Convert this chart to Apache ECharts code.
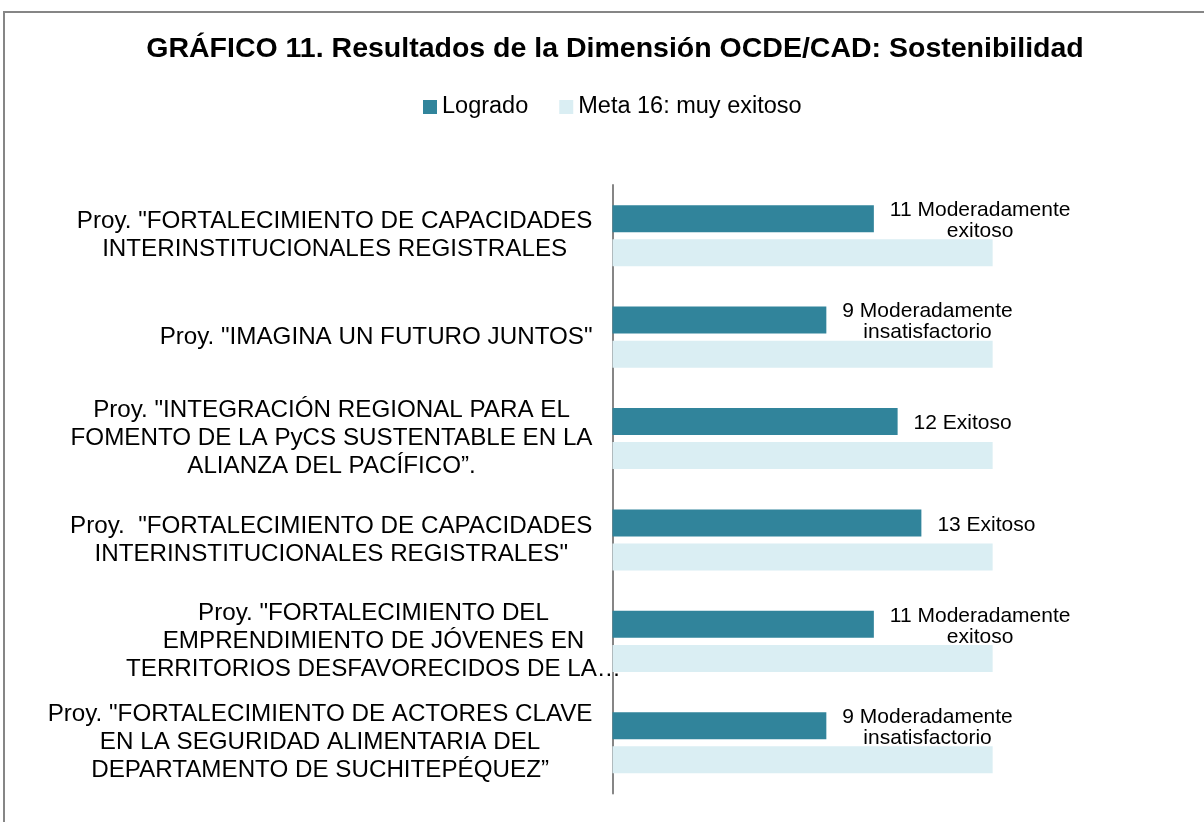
<!DOCTYPE html>
<html><head><meta charset="utf-8">
<script src="https://cdn.jsdelivr.net/npm/echarts@6/dist/echarts.min.js"></script>
<style>html,body{margin:0;padding:0;background:#fff}#c{width:1204px;height:822px}</style>
</head><body><div id="c"></div>
<script>
const titleText = 'GRÁFICO 11. Resultados de la Dimensión OCDE/CAD: Sostenibilidad';
const seriesNames = ['Logrado', 'Meta 16: muy exitoso'];
const categories = [
  'Proy. "FORTALECIMIENTO DE CAPACIDADES\nINTERINSTITUCIONALES REGISTRALES',
  'Proy. "IMAGINA UN FUTURO JUNTOS"',
  'Proy. "INTEGRACIÓN REGIONAL PARA EL\nFOMENTO DE LA PyCS SUSTENTABLE EN LA\nALIANZA DEL PACÍFICO”.',
  'Proy.  "FORTALECIMIENTO DE CAPACIDADES\nINTERINSTITUCIONALES REGISTRALES"',
  'Proy. "FORTALECIMIENTO DEL\nEMPRENDIMIENTO DE JÓVENES EN\nTERRITORIOS DESFAVORECIDOS DE LA…',
  'Proy. "FORTALECIMIENTO DE ACTORES CLAVE\nEN LA SEGURIDAD ALIMENTARIA DEL\nDEPARTAMENTO DE SUCHITEPÉQUEZ”'
];
const logrado = [11, 9, 12, 13, 11, 9];
const meta = [16, 16, 16, 16, 16, 16];
const ratings = [
  'Moderadamente\nexitoso',
  'Moderadamente\ninsatisfactorio',
  'Exitoso',
  'Exitoso',
  'Moderadamente\nexitoso',
  'Moderadamente\ninsatisfactorio'
];

const FONT = '"Liberation Sans", Arial, sans-serif';
const chart = echarts.init(document.getElementById('c'), null, { renderer: 'canvas' });
chart.setOption({
  backgroundColor: '#ffffff',
  animation: false,
  graphic: [{
    type: 'rect', z: -10, silent: true,
    shape: { x: 4, y: 12, width: 1300, height: 900 },
    style: { fill: 'none', stroke: '#868686', lineWidth: 2 }
  }],
  title: {
    text: titleText, left: 615, top: 34, textAlign: 'center', padding: 0,
    textStyle: { fontFamily: FONT, fontSize: 28.5, fontWeight: 'bold', color: '#000', lineHeight: 30 }
  },
  legend: {
    data: seriesNames, left: 423, top: 95, padding: 0, itemWidth: 14, itemHeight: 14, itemGap: 31,
    icon: 'rect',
    textStyle: { fontFamily: FONT, fontSize: 23.5, color: '#000', lineHeight: 20 }
  },
  grid: { left: 612.5, right: 116.3, top: 185, bottom: 28.5, containLabel: false, outerBoundsMode: 'none' },
  xAxis: { type: 'value', min: 0, max: 20, show: false },
  yAxis: {
    type: 'category', data: categories, inverse: true,
    axisLine: { show: true, lineStyle: { color: '#868686', width: 2 } },
    axisTick: { show: false },
    splitLine: { show: false },
    axisLabel: {
      interval: 0, margin: 20, color: '#000',
      formatter: function (v) {
        return v.split('\n').map(function (l) {
          return (l.endsWith('…') ? '{o|' : '{c|') + l + '}';
        }).join('\n');
      },
      rich: {
        c: { align: 'center', fontFamily: FONT, fontSize: 24.2, lineHeight: 28, color: '#000' },
        o: { align: 'center', width: 438, fontFamily: FONT, fontSize: 24.2, lineHeight: 28, color: '#000' }
      }
    }
  },
  series: [
    {
      name: seriesNames[0], type: 'bar', data: logrado, barWidth: 27, barGap: '26%',
      itemStyle: { color: '#31849B' },
      label: {
        show: true, position: 'right', distance: 16, offset: [0, 2],
        formatter: function (p) {
          return (p.value + ' ' + ratings[p.dataIndex]).split('\n').map(function (l) {
            return '{c|' + l + '}';
          }).join('\n');
        },
        rich: { c: { align: 'center', fontFamily: FONT, fontSize: 21, lineHeight: 21, color: '#000' } }
      }
    },
    {
      name: seriesNames[1], type: 'bar', data: meta, barWidth: 27, barGap: '26%',
      itemStyle: { color: '#DAEEF3' }
    }
  ]
});
</script>
</body></html>
